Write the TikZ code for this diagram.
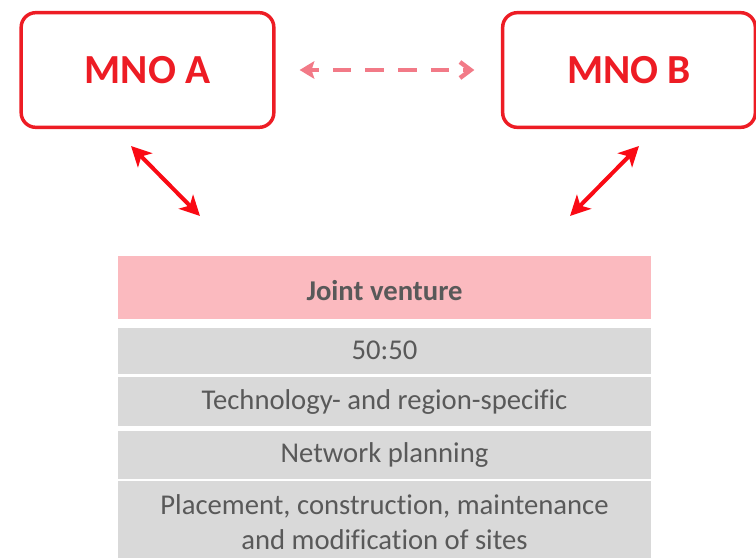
\documentclass[tikz,border=0pt]{standalone}
\usepackage{fontspec}
\setmainfont[Ligatures={NoCommon,NoRare}]{Carlito}
\usepackage{tikz}
\usetikzlibrary{arrows.meta}
\usetikzlibrary{positioning}

\definecolor{mnored}{RGB}{237,28,36}
\definecolor{linkred}{RGB}{250,10,20}
\definecolor{dashpink}{RGB}{242,122,135}
\definecolor{jvpink}{RGB}{251,186,191}
\definecolor{rowgray}{RGB}{217,217,217}
\definecolor{rowtext}{RGB}{89,89,89}

\tikzset{
    mno/.style={draw=mnored, line width=2.6pt, rounded corners=11pt,
        minimum width=189.5pt, minimum height=86pt, text=mnored,
        font=\bfseries\fontsize{31}{37}\selectfont},
    jvrow/.style={fill=jvpink, minimum width=399.5pt, minimum height=47.25pt,
        inner sep=0pt, text height=19pt, text=rowtext,
        font=\bfseries\fontsize{21.5}{26}\selectfont},
    row/.style={fill=rowgray, minimum width=399.5pt, inner sep=0pt,
        align=center, text=rowtext, font=\fontsize{21.5}{26.5}\selectfont},
    link/.style={linkred, line width=3pt,
        {Stealth[length=15pt,width=15pt,inset=4pt]}-{Stealth[length=15pt,width=15pt,inset=4pt]}},
    dashlink/.style={dashpink, line width=3.3pt, dash pattern=on 14pt off 10.5pt,
        dash phase=8pt, {Stealth[length=11pt,width=13pt,inset=2pt]}-{Straight Barb[length=8pt,width=12pt]}}
}

\begin{document}
\begin{tikzpicture}[x=0.75pt, y=-0.75pt]
        \useasboundingbox (0,0) rectangle (756,557);

        % operators
        \node[mno] (mnoA) at (147.5,70) {MNO A};
        \node[mno] (mnoB) at (629,70) {MNO B};
        \draw[dashlink, shorten <=18pt, shorten >=20pt] (mnoA) -- (mnoB);

        % joint venture table
        \node[jvrow] (jv) at (384.5,287.5) {Joint venture};
        \node[row, minimum height=34.5pt, below=6pt of jv] (share) {50:50};
        \node[row, minimum height=36.75pt, below=2.25pt of share] (scope) {Technology- and region-specific};
        \node[row, minimum height=36pt, below=3pt of scope] (plan) {Network planning};
        \node[row, minimum height=62pt, below=1.5pt of plan] (sites) {Placement, construction, maintenance\\and modification of sites};

        \coordinate (aTop) at (131,146);
        \coordinate (aEnd) at (200,216);
        \coordinate (bTop) at (639,146);
        \coordinate (bEnd) at (570,216);
        \draw[link] (aTop) -- (aEnd);
        \draw[link] (bTop) -- (bEnd);
\end{tikzpicture}
\end{document}
